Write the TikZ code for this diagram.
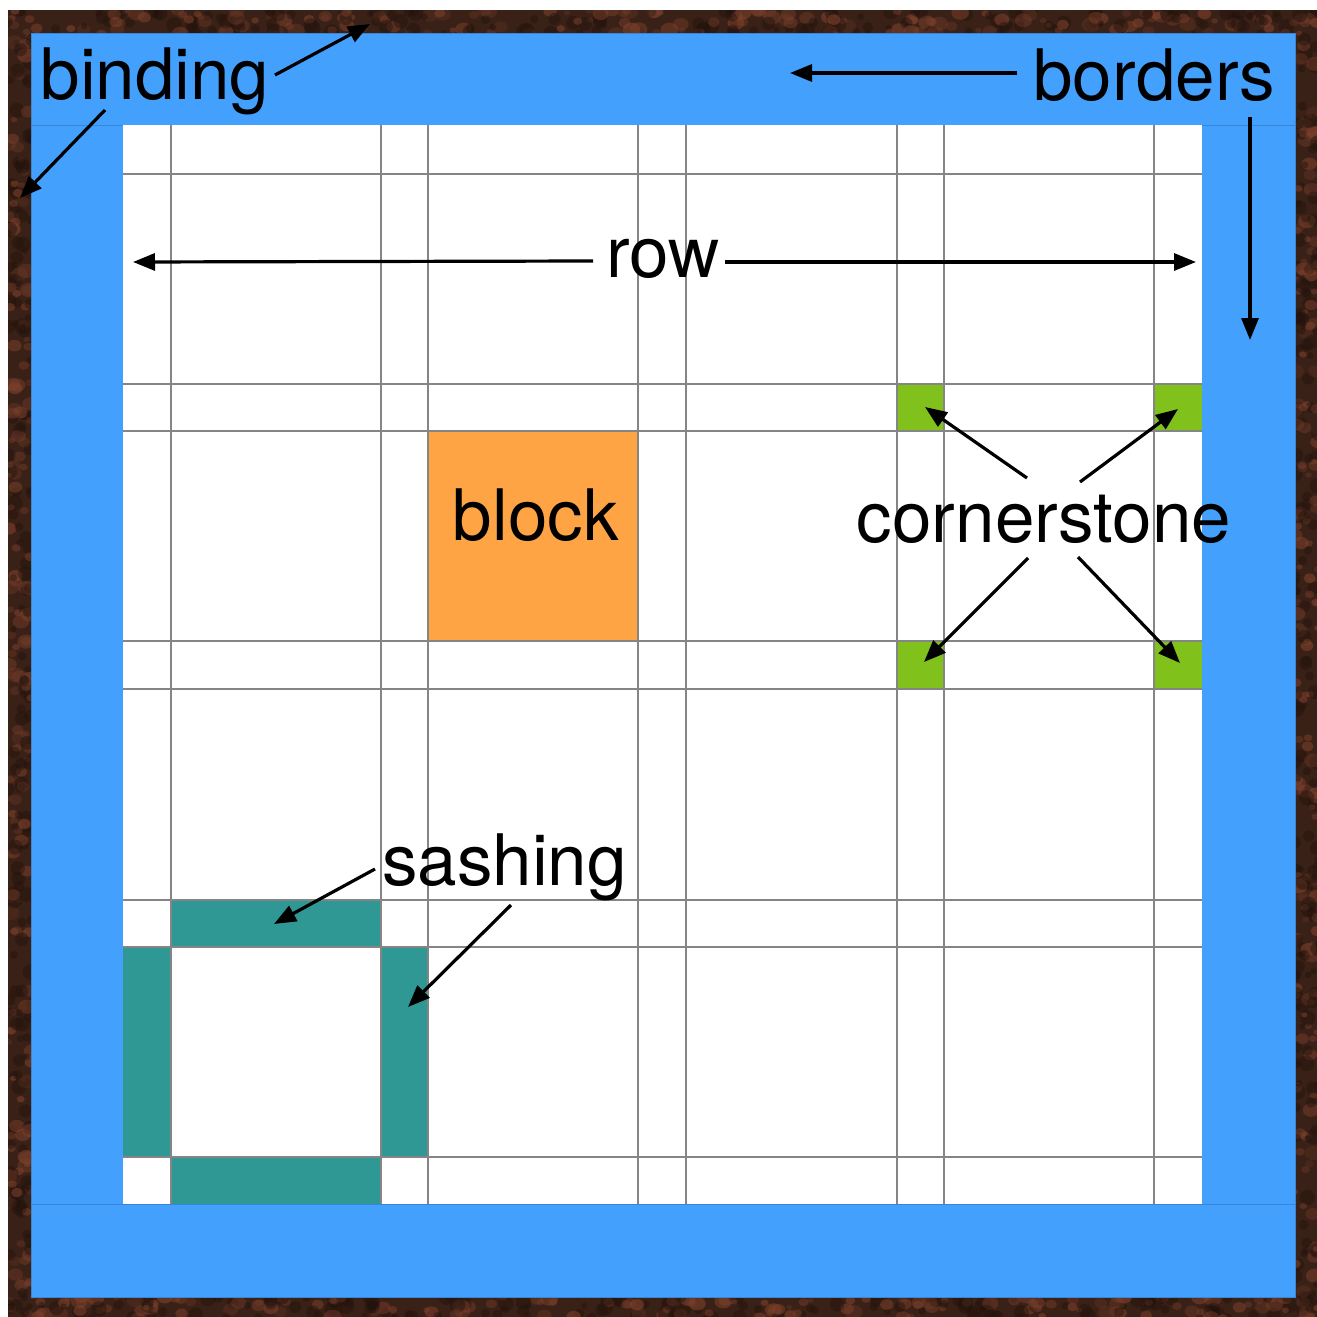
\documentclass[tikz,border=0pt]{standalone}
\usepackage{fontspec}
\setmainfont{TeX Gyre Heros}
\usetikzlibrary{arrows.meta}

\definecolor{bindingbase}{HTML}{3A2117}
\definecolor{bindingred}{HTML}{7E412C}
\definecolor{bindingdark}{HTML}{22130D}
\definecolor{borderblue}{HTML}{43A0FD}
\definecolor{seamblue}{HTML}{3A86D6}
\definecolor{blockorange}{HTML}{FFA444}
\definecolor{stonegreen}{HTML}{80C11C}
\definecolor{sashteal}{HTML}{2F9894}
\definecolor{seam}{HTML}{858585}

% mottled blotches for the fabric of the binding strip
\newcommand\bindingspots[5]{%
  \foreach \k in {1,...,#5}{%
    \pgfmathsetmacro\sx{#1+rnd*#3}%
    \pgfmathsetmacro\sy{#2+rnd*#4}%
    \pgfmathsetmacro\sr{3+rnd*6}%
    \pgfmathsetmacro\so{0.2+0.4*rnd}%
    \fill[bindingred, opacity=\so] (\sx,\sy) ellipse[x radius=\sr, y radius=0.8*\sr];
    \pgfmathsetmacro\sx{#1+rnd*#3}%
    \pgfmathsetmacro\sy{#2+rnd*#4}%
    \pgfmathsetmacro\sr{3+rnd*5}%
    \fill[bindingdark, opacity=0.45] (\sx,\sy) circle[radius=\sr];
  }}

\tikzset{
  label/.style={font=\fontsize{71}{82}\selectfont, inner sep=0pt, anchor=base, text=black},
  pointer/.style={line width=3.2pt, -{Triangle[length=22pt,width=17pt]}},
  seamline/.style={draw=seam, line width=1.8pt},
}

\begin{document}
\begin{tikzpicture}[x=1pt, y=-1pt]
\useasboundingbox (0,0) rectangle (1317,1317);
\fill[white] (0,0) rectangle (1317,1317);

% binding
\fill[bindingbase] (8,10) rectangle (1317,1317);
\begin{scope}
  \clip (8,10) rectangle (1317,1317);
  \pgfmathsetseed{17}
  \bindingspots{8}{10}{1309}{24}{150}
  \bindingspots{8}{1296}{1309}{22}{150}
  \bindingspots{8}{10}{24}{1307}{150}
  \bindingspots{1294}{10}{24}{1307}{150}
\end{scope}

% borders
\fill[borderblue] (31,33) rectangle (1295,1297);
\draw[seamblue, line width=1pt] (31,33) rectangle (1295,1297);
\draw[seamblue, line width=1pt] (31,125) -- (1295,125);
\draw[seamblue, line width=1pt] (31,1204) -- (1295,1204);

% quilt top
\fill[white] (123,125) rectangle (1202,1204);
\fill[blockorange] (428,431) rectangle (638,641);
\foreach \gx in {897,1154}
  \foreach \gy in {384,641}
    \fill[stonegreen] (\gx,\gy) rectangle ++(47.5,47.5);
\fill[sashteal] (171,900) rectangle (381,947);
\fill[sashteal] (123,947) rectangle (171,1157);
\fill[sashteal] (381,947) rectangle (428,1157);
\fill[sashteal] (171,1157) rectangle (381,1204);

% seams between blocks and sashing
\foreach \sx in {171,381,428,638,686,897,944,1154}
  \draw[seamline] (\sx,125) -- (\sx,1204);
\foreach \sy in {174,384,431,641,689,900,947,1157}
  \draw[seamline] (123,\sy) -- (1202,\sy);

% labels
\node[label] (binding) at (155,99) {binding};
\node[label] (borders) at (1154,100) {borders};
\node[label] (row) at (663,277) {row};
\node[label] (block) at (536,540) {block};
\node[label] (cornerstone) at (1044,542) {cornerstone};
\node[label] (sashing) at (504.5,885) {sashing};

% arrow ends
\coordinate (bindingA) at (275,75);
\coordinate (bindingAtip) at (370,24);
\coordinate (bindingB) at (105,110);
\coordinate (bindingBtip) at (20,198);
\coordinate (bordersA) at (1017,73);
\coordinate (bordersAtip) at (790,73);
\coordinate (bordersB) at (1250,117);
\coordinate (bordersBtip) at (1250,340);
\coordinate (rowL) at (593,261);
\coordinate (rowLtip) at (133,262);
\coordinate (rowR) at (725,262);
\coordinate (rowRtip) at (1196,262);
\coordinate (stoneNW) at (1027,478);
\coordinate (stoneNWtip) at (925,407);
\coordinate (stoneNE) at (1080,482);
\coordinate (stoneNEtip) at (1178,409);
\coordinate (stoneSW) at (1028,558);
\coordinate (stoneSWtip) at (924,662);
\coordinate (stoneSE) at (1078,557);
\coordinate (stoneSEtip) at (1180,663);
\coordinate (sashA) at (375,869);
\coordinate (sashAtip) at (274,924);
\coordinate (sashB) at (511,905);
\coordinate (sashBtip) at (408,1007);

% pointers
\draw[pointer] (bindingA) -- (bindingAtip);
\draw[pointer] (bindingB) -- (bindingBtip);
\draw[pointer] (bordersA) -- (bordersAtip);
\draw[pointer] (bordersB) -- (bordersBtip);
\draw[pointer] (rowL) -- (rowLtip);
\draw[pointer] (rowR) -- (rowRtip);
\draw[pointer] (stoneNW) -- (stoneNWtip);
\draw[pointer] (stoneNE) -- (stoneNEtip);
\draw[pointer] (stoneSW) -- (stoneSWtip);
\draw[pointer] (stoneSE) -- (stoneSEtip);
\draw[pointer] (sashA) -- (sashAtip);
\draw[pointer] (sashB) -- (sashBtip);
\end{tikzpicture}
\end{document}
